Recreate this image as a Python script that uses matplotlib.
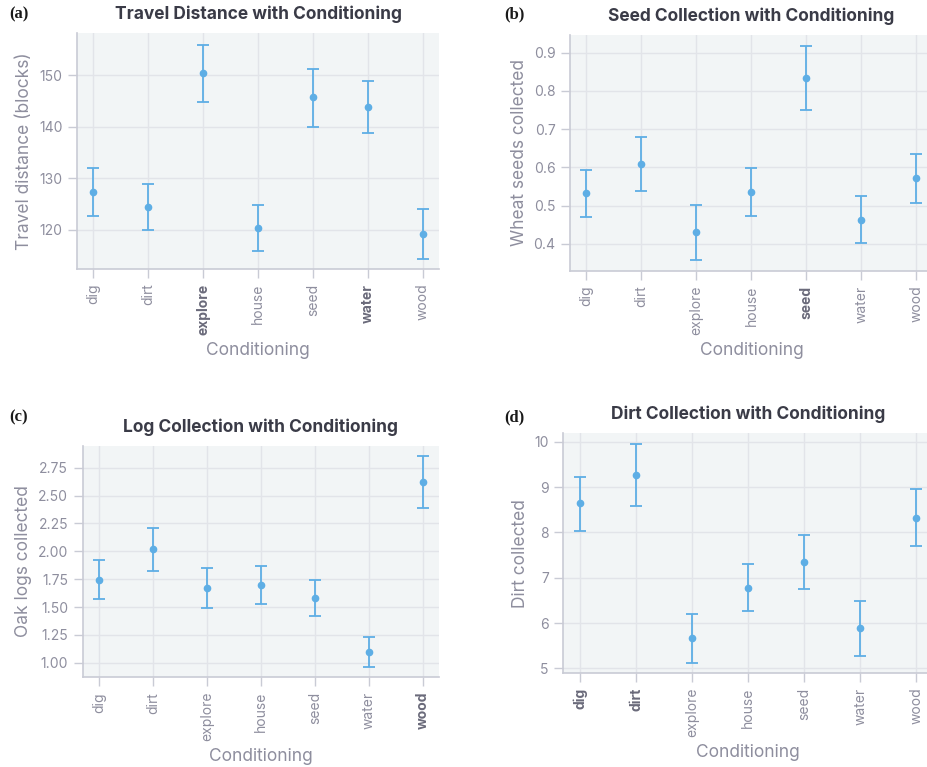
import matplotlib
matplotlib.use("Agg")
import matplotlib.pyplot as plt
import numpy as np

CONDITIONS = ['dig', 'dirt', 'explore', 'house', 'seed', 'water', 'wood']

# travel distance (blocks): mean, lower, upper
travel_mean = [127.4, 124.4, 150.4, 120.3, 145.7, 143.8, 119.2]
travel_low = [122.7, 119.9, 144.9, 115.9, 140.0, 138.8, 114.4]
travel_high = [132.0, 128.9, 155.9, 124.9, 151.3, 148.9, 124.1]

# wheat seeds collected
seed_mean = [0.533, 0.608, 0.430, 0.535, 0.833, 0.463, 0.571]
seed_low = [0.471, 0.537, 0.357, 0.474, 0.749, 0.401, 0.507]
seed_high = [0.593, 0.680, 0.502, 0.597, 0.917, 0.524, 0.636]

# oak logs collected
log_mean = [1.745, 2.017, 1.670, 1.694, 1.577, 1.099, 2.618]
log_low = [1.568, 1.820, 1.491, 1.523, 1.416, 0.964, 2.388]
log_high = [1.921, 2.211, 1.853, 1.867, 1.745, 1.233, 2.852]

# dirt collected
dirt_mean = [8.64, 9.26, 5.66, 6.78, 7.35, 5.88, 8.33]
dirt_low = [8.04, 8.59, 5.12, 6.26, 6.76, 5.28, 7.70]
dirt_high = [9.23, 9.95, 6.19, 7.31, 7.94, 6.49, 8.97]

BG = '#f2f5f6'
GRID = '#e2e4e9'
SPINE = '#c9cbd5'
TICKTXT = '#8e8e9e'
BOLDTXT = '#6a6a7a'
TITLE = '#3a3b47'
BLUE = '#5eaee5'

plt.rcParams['font.family'] = ['Inter', 'DejaVu Sans']

fig = plt.figure(figsize=(9.28, 7.67), dpi=100)


def draw_panel(rect, mean, low, high, title, ylabel, ylim, yticks, yfmt,
               bold, letter, letter_xy, title_pad):
    ax = fig.add_axes(rect)
    ax.set_facecolor(BG)
    x = np.arange(len(CONDITIONS))
    mean = np.array(mean)
    yerr = [mean - np.array(low), np.array(high) - mean]
    ax.errorbar(x, mean, yerr=yerr, fmt='o', color=BLUE, ms=4.5,
                elinewidth=1.3, capsize=4, capthick=1.3, zorder=3)
    ax.set_xlim(-0.3, 6.3)
    ax.set_ylim(*ylim)
    ax.set_yticks(yticks)
    ax.set_yticklabels([yfmt.format(v) for v in yticks])
    ax.set_xticks(x)
    ax.set_xticklabels(CONDITIONS, rotation=90)
    ax.grid(True, color=GRID, lw=1.0)
    ax.set_axisbelow(True)
    for s in ['top', 'right']:
        ax.spines[s].set_visible(False)
    for s in ['left', 'bottom']:
        ax.spines[s].set_color(SPINE)
        ax.spines[s].set_linewidth(1.2)
    ax.tick_params(axis='both', colors=SPINE, labelcolor=TICKTXT,
                   length=6.5, width=1.0, labelsize=10, pad=4)
    # the matching condition is shown in bold
    for lab in ax.get_xticklabels():
        if lab.get_text() in bold:
            lab.set_fontweight('bold')
            lab.set_color(BOLDTXT)
    ax.set_xlabel('Conditioning', fontsize=12.5, color=TICKTXT, labelpad=5)
    ax.set_ylabel(ylabel, fontsize=12.5, color=TICKTXT, labelpad=4)
    ax.set_title(title, fontsize=12.5, fontweight='bold', color=TITLE, pad=title_pad)
    fig.text(letter_xy[0], letter_xy[1], letter, fontsize=12, fontweight='bold',
             family='Liberation Serif', color='#1a1a1a', ha='left', va='center')
    return ax


draw_panel([0.0830, 0.6493, 0.3901, 0.3077], travel_mean, travel_low, travel_high,
           'Travel Distance with Conditioning', 'Travel distance (blocks)',
           (112.4, 158.2), [120, 130, 140, 150], '{:d}', ['explore', 'water'],
           '(a)', (0.010, 1 - 14 / 767), 10)

draw_panel([0.6142, 0.6467, 0.3910, 0.3077], seed_mean, seed_low, seed_high,
           'Seed Collection with Conditioning', 'Wheat seeds collected',
           (0.329, 0.946), [0.4, 0.5, 0.6, 0.7, 0.8, 0.9], '{:.1f}', ['seed'],
           '(b)', (504 / 928, 1 - 14 / 767), 10)

draw_panel([0.0891, 0.1169, 0.3839, 0.3020], log_mean, log_low, log_high,
           'Log Collection with Conditioning', 'Oak logs collected',
           (0.869, 2.947), [1.0, 1.25, 1.5, 1.75, 2.0, 2.25, 2.5, 2.75], '{:.2f}', ['wood'],
           '(c)', (0.010, 1 - 417 / 767), 10)

draw_panel([0.6070, 0.1222, 0.3985, 0.3129], dirt_mean, dirt_low, dirt_high,
           'Dirt Collection with Conditioning', 'Dirt collected',
           (4.89, 10.19), [5, 6, 7, 8, 9, 10], '{:d}', ['dig', 'dirt'],
           '(d)', (504 / 928, 1 - 417 / 767), 10)

fig.savefig('out.png', dpi=100)
